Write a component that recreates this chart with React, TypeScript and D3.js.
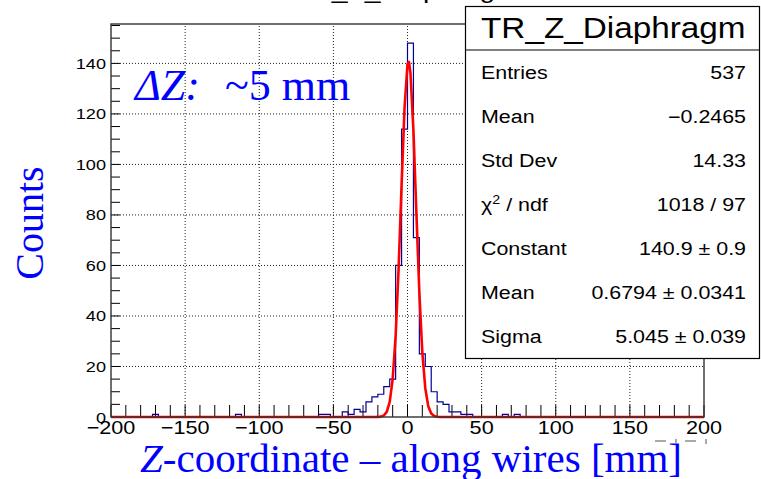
import React from "react";
import * as d3 from "d3";

// ---------- data ----------
const X_DOMAIN = [-200, 200];
const Y_MAX = 155.6;
const BIN_WIDTH = 4;
const X_TICKS = [-200, -150, -100, -50, 0, 50, 100, 150, 200];
const X_TICK_LABELS = ["−200", "−150", "−100", "−50", "0", "50", "100", "150", "200"];
const Y_TICKS = [0, 20, 40, 60, 80, 100, 120, 140];
const Y_TICK_LABELS = ["0", "20", "40", "60", "80", "100", "120", "140"];

// non-empty histogram bins (lower edge, counts)
const BIN_LOW = [-172, -116, -60, -56, -44, -40, -36, -32, -28, -24, -20, -16, -12, -8, -4, 0, 4, 8, 12, 16, 20, 24, 28, 32, 36, 40, 64, 72];
const BIN_COUNT = [1, 1, 1, 1, 2, 1, 3, 2, 6, 8, 9, 12, 15, 60, 114, 148, 71, 25, 20, 10, 6, 5, 2, 2, 1, 1, 1, 1];

// Gaussian fit curve as drawn (x, y)
const FIT_X = [-200, -22, -20, -18, -16, -14, -12, -10, -8, -6, -4, -2, 0, 1, 2, 4, 6, 8, 10, 12, 14, 16, 18, 20, 22, 200];
const FIT_Y = [0, 0, 0.03, 0.15, 0.6, 2.0, 6.0, 15.0, 32.1, 58.7, 91.6, 122.4, 139.6, 140.6, 136.2, 113.5, 80.8, 49.2, 25.6, 11.4, 4.3, 1.4, 0.4, 0.1, 0, 0];

const STATS_TITLE = "TR_Z_Diaphragm";
const STATS_LABELS = ["Entries", "Mean", "Std Dev", "χ2 / ndf", "Constant", "Mean", "Sigma"];
const STATS_VALUES = ["537", "−0.2465", "14.33", "1018 / 97", "140.9 ± 0.9", "0.6794 ± 0.0341", "5.045 ± 0.039"];

const X_TITLE_ITALIC = "Z";
const X_TITLE_REST = "-coordinate – along wires [mm]";
const Y_TITLE = "Counts";
const NOTE_ITALIC = "ΔZ:";
const NOTE_REST = "~5 mm";

// ---------- layout ----------
const W = 761;
const H = 479;
const L = 111;
const R = 704;
const T = 24;
const B = 417;
const SANS = "'Liberation Sans', Arial, Helvetica, sans-serif";
const SERIF = "'Liberation Serif', 'Times New Roman', Times, serif";
const BLUE = "#0000ff";

function SText(props: {
  x: number;
  y: number;
  sx: number;
  size: number;
  anchor?: string;
  children: React.ReactNode;
  fill?: string;
}) {
  const { x, y, sx, size, anchor = "start", children, fill = "#000" } = props;
  return (
    <text
      transform={`translate(${x},${y}) scale(${sx},1)`}
      textAnchor={anchor}
      fontSize={size}
      fontFamily={SANS}
      fill={fill}
    >
      {children}
    </text>
  );
}

export default function App() {
  const x = d3.scaleLinear().domain(X_DOMAIN).range([L, R]);
  const y = d3.scaleLinear().domain([0, Y_MAX]).range([B, T]);

  // full bin array
  const nBins = (X_DOMAIN[1] - X_DOMAIN[0]) / BIN_WIDTH;
  const counts: number[] = new Array(nBins).fill(0);
  BIN_LOW.forEach((lo, i) => {
    counts[Math.round((lo - X_DOMAIN[0]) / BIN_WIDTH)] = BIN_COUNT[i];
  });
  let histPath = `M${x(X_DOMAIN[0])},${y(0)}`;
  counts.forEach((c, i) => {
    const lo = X_DOMAIN[0] + i * BIN_WIDTH;
    histPath += `L${x(lo)},${y(c)}L${x(lo + BIN_WIDTH)},${y(c)}`;
  });
  histPath += `L${x(X_DOMAIN[1])},${y(0)}`;

  const fitLine = d3
    .line<number>()
    .x((_, i) => x(FIT_X[i]))
    .y((d) => y(d));
  const fitPath = fitLine(FIT_Y) || "";

  const xMinor = d3.range(X_DOMAIN[0], X_DOMAIN[1] + 1, 10);
  const yMinor = d3.range(0, Y_MAX, 5);
  const xGrid = X_TICKS.slice(1, -1);
  const yGrid = Y_TICKS.slice(1);

  const boxL = 465.5;
  const boxR = 759.5;
  const boxT = 6.5;
  const boxB = 358.5;
  const headB = 50;
  const rowY = STATS_LABELS.map((_, i) => 78.5 + i * 44.1);

  return (
    <svg
      width={W}
      height={H}
      style={{ position: "absolute", left: 0, top: 0, background: "#fff" }}
    >
      <rect x={0} y={0} width={W} height={H} fill="#fff" />

      {/* title (mostly cut off at top) */}
      <SText x={294} y={-2} sx={1.18} size={24}>
        {STATS_TITLE}
      </SText>

      {/* grid */}
      {xGrid.map((v) => (
        <line key={"gx" + v} x1={x(v)} x2={x(v)} y1={B} y2={T} stroke="#222" strokeWidth={1} strokeDasharray="1 2" />
      ))}
      {yGrid.map((v) => (
        <line key={"gy" + v} x1={L} x2={R} y1={y(v)} y2={y(v)} stroke="#222" strokeWidth={1} strokeDasharray="1 2" />
      ))}

      {/* ticks */}
      {xMinor.map((v) => (
        <line key={"tx" + v} x1={x(v)} x2={x(v)} y1={B} y2={B - 12} stroke="#000" strokeWidth={1} />
      ))}
      {yMinor.map((v) => (
        <line key={"ty" + v} x1={L} x2={L + 9} y1={y(v)} y2={y(v)} stroke="#000" strokeWidth={1} />
      ))}

      {/* histogram */}
      <path d={histPath} fill="none" stroke="#000099" strokeWidth={1.2} />
      {/* fit */}
      <path d={fitPath} fill="none" stroke="#ff0000" strokeWidth={2.6} strokeLinejoin="round" />

      {/* frame */}
      <rect x={L} y={T} width={R - L} height={B - T} fill="none" stroke="#333" strokeWidth={1.4} />

      {/* tick labels */}
      {X_TICKS.map((v, i) => (
        <SText key={"lx" + v} x={x(v)} y={434} sx={1.17} size={18.5} anchor="middle">
          {X_TICK_LABELS[i]}
        </SText>
      ))}
      {Y_TICKS.map((v, i) => (
        <SText key={"ly" + v} x={106} y={y(v) + 5.5} sx={1.17} size={15.5} anchor="end">
          {Y_TICK_LABELS[i]}
        </SText>
      ))}

      {/* small remnant marks under the last labels */}
      <line x1={655} x2={666} y1={441} y2={441} stroke="#555" strokeWidth={1} />
      <line x1={676} x2={676} y1={439} y2={443} stroke="#555" strokeWidth={1} />
      <line x1={685} x2={696} y1={441} y2={441} stroke="#555" strokeWidth={1} />
      <line x1={706} x2={706} y1={439} y2={444} stroke="#555" strokeWidth={1} />

      {/* stats box */}
      <rect x={boxL} y={boxT} width={boxR - boxL} height={boxB - boxT} fill="#fff" stroke="#000" strokeWidth={1.2} />
      <line x1={boxL} x2={boxR} y1={headB} y2={headB} stroke="#000" strokeWidth={1.2} />
      <SText x={481} y={38} sx={1.11} size={30}>
        {STATS_TITLE}
      </SText>
      {STATS_LABELS.map((lab, i) => (
        <SText key={"sl" + i} x={481} y={rowY[i]} sx={1.19} size={18}>
          {lab.startsWith("χ2") ? (
            <>
              <tspan>χ</tspan>
              <tspan fontSize={12} dy={-7}>2</tspan>
              <tspan dy={7}>{lab.slice(2)}</tspan>
            </>
          ) : (
            lab
          )}
        </SText>
      ))}
      {STATS_VALUES.map((val, i) => (
        <SText key={"sv" + i} x={746} y={rowY[i]} sx={1.19} size={18} anchor="end">
          {val}
        </SText>
      ))}

      {/* blue annotations */}
      <text transform="translate(43,223) rotate(-90)" textAnchor="middle" fontSize={40} fontFamily={SERIF} fill={BLUE}>
        {Y_TITLE}
      </text>
      <text x={140} y={472} fontSize={41} fontFamily={SERIF} fill={BLUE}>
        <tspan fontStyle="italic">{X_TITLE_ITALIC}</tspan>
        {X_TITLE_REST}
      </text>
      <text x={135} y={100} fontSize={44} fontFamily={SERIF} fill={BLUE} fontStyle="italic">
        {NOTE_ITALIC}
      </text>
      <text x={225} y={100} fontSize={44} fontFamily={SERIF} fill={BLUE}>
        {NOTE_REST}
      </text>
    </svg>
  );
}
